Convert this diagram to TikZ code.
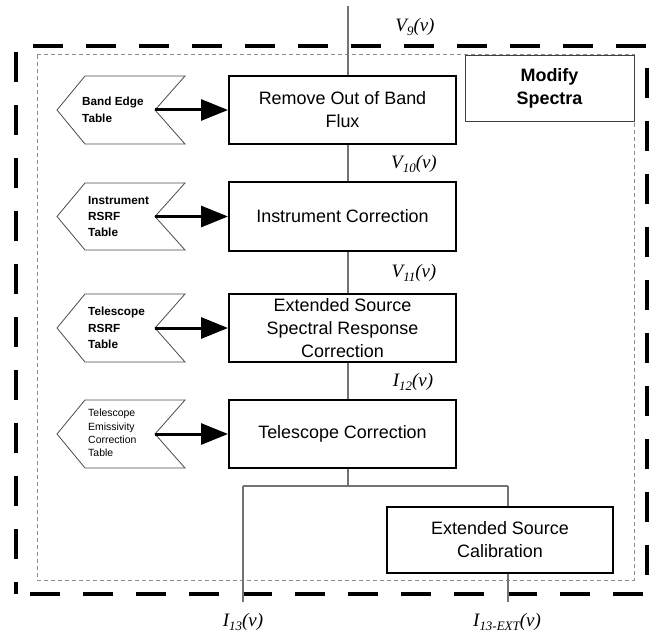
\documentclass[tikz,border=0pt]{standalone}
\usepackage{fontspec}
\setmainfont{Liberation Sans}
\newfontfamily\tnr{Liberation Serif}
\usetikzlibrary{arrows.meta}
\newcommand{\lsub}[1]{\raisebox{-4.5bp}{\fontsize{13}{13}\selectfont #1}}
\tikzset{
  proc/.style={draw=black, fill=white, line width=2bp, minimum width=227bp, minimum height=68bp,
    align=center, inner sep=0pt, font=\fontsize{18}{23}\selectfont},
  extbox/.style={draw=black, fill=white, line width=1.6bp, minimum width=226bp, minimum height=66bp,
    align=center, inner sep=0pt, font=\fontsize{18}{23}\selectfont},
  modbox/.style={draw=black!75, fill=white, line width=0.9bp, minimum width=169bp, minimum height=66bp,
    align=center, inner sep=0pt, font=\bfseries\fontsize{18}{23}\selectfont},
  chev/.style={draw=black!70, line width=0.8bp, fill=white},
  chevtxt/.style={anchor=west, align=left, inner sep=0pt, font=\bfseries\fontsize{11.8}{16.5}\selectfont},
  chevtxtsmall/.style={anchor=west, align=left, inner sep=0pt, font=\fontsize{10.5}{13.5}\selectfont},
  feed/.style={line width=3bp, -{Triangle[length=27bp,width=21bp]}},
  conn/.style={draw=black!55, line width=1.2bp},
  lbl/.style={inner sep=0pt, font=\tnr\itshape\fontsize{19}{21}\selectfont},
  outerframe/.style={draw=black, line width=4bp, dash pattern=on 30bp off 23bp, dash phase=18bp},
  innerframe/.style={draw=black!45, line width=1bp, dash pattern=on 4bp off 3bp}
}
\begin{document}
\begin{tikzpicture}[x=1bp,y=-1bp]
\useasboundingbox (0,0) rectangle (651,635);
% frames
\draw[outerframe] (16,594) -- (16,46) -- (647,46) -- (647,594) -- cycle;
\draw[innerframe] (37,55) rectangle (634,580);
% modify box
\node[modbox] (mod) at (549.5,88) {Modify\\Spectra};
% process boxes
\node[proc] (b1) at (342.5,110) {Remove Out of Band\\Flux};
\node[proc] (b2) at (342.5,216.5) {Instrument Correction};
\node[proc] (b3) at (342.5,328) {Extended Source\\Spectral Response\\Correction};
\node[proc] (b4) at (342.5,434) {Telescope Correction};
\node[extbox] (ext) at (500,540) {Extended Source\\Calibration};
% chevrons
\draw[chev] (85,76) -- (185,76) -- (155,110) -- (185,144) -- (85,144) -- (57,110) -- cycle;
\coordinate (n1) at (155,110);
\node[chevtxt] (t1) at (82,110) {Band Edge\\Table};
\draw[chev] (85,183) -- (185,183) -- (155,216.5) -- (185,250) -- (85,250) -- (57,216.5) -- cycle;
\coordinate (n2) at (155,216.5);
\node[chevtxt] (t2) at (88,216.5) {Instrument\\RSRF\\Table};
\draw[chev] (85,294) -- (185,294) -- (155,328) -- (185,362) -- (85,362) -- (57,328) -- cycle;
\coordinate (n3) at (155,328);
\node[chevtxt] (t3) at (88,328) {Telescope\\RSRF\\Table};
\draw[chev] (85,400) -- (185,400) -- (155,434) -- (185,468) -- (85,468) -- (57,434) -- cycle;
\coordinate (n4) at (155,434);
\node[chevtxtsmall] (t4) at (88,433) {Telescope\\Emissivity\\Correction\\Table};
% feeds
\draw[feed] (n1) -- (b1.west);
\draw[feed] (n2) -- (b2.west);
\draw[feed] (n3) -- (b3.west);
\draw[feed] (n4) -- (b4.west);
% main stem
\coordinate (top) at (348,6);
\draw[conn] (top) -- (top |- b1.north);
\draw[conn] (b1.south -| top) -- (top |- b2.north);
\draw[conn] (b2.south -| top) -- (top |- b3.north);
\draw[conn] (b3.south -| top) -- (top |- b4.north);
\coordinate (j) at (348,486);
\coordinate (jl) at (243,486);
\coordinate (jr) at (508,486);
\draw[conn] (b4.south -| top) -- (j);
\draw[conn] (jl) -- (jr);
\coordinate (o1) at (243,602);
\coordinate (o2) at (508,602);
\draw[conn] (jl) -- (o1);
\draw[conn] (jr) -- (jr |- ext.north);
\draw[conn] (ext.south -| o2) -- (o2);
% labels
\node[lbl] (v9) at (415,27) {V\lsub{9}(v)};
\node[lbl] (v10) at (414,164) {V\lsub{10}(v)};
\node[lbl] (v11) at (414,273) {V\lsub{11}(v)};
\node[lbl] (i12) at (413,382) {I\lsub{12}(v)};
\node[lbl] (i13) at (243,622) {I\lsub{13}(v)};
\node[lbl] (i13e) at (507,622) {I\lsub{13-EXT}(v)};
\end{tikzpicture}
\end{document}
